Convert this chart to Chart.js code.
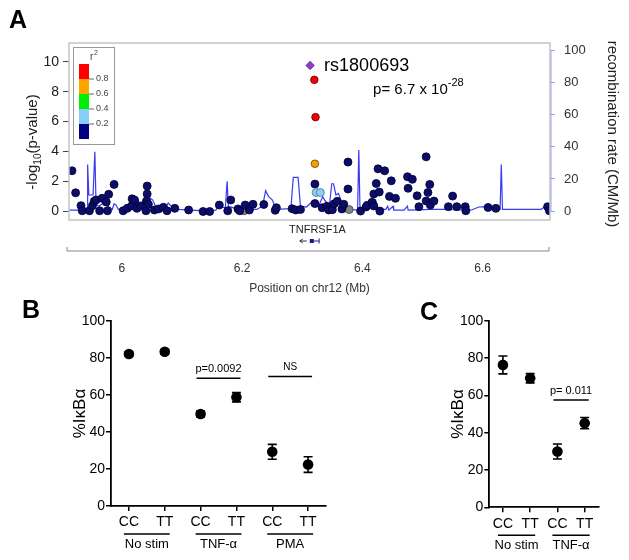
<!DOCTYPE html>
<html>
<head>
<meta charset="utf-8">
<script src="https://cdn.jsdelivr.net/npm/chart.js@4.4.0/dist/chart.umd.min.js"></script>
<style>
  body { margin: 0; background: #fff; }
  #wrap { position: relative; width: 629px; height: 560px; }
  canvas { position: absolute; }
</style>
</head>
<body>
<div id="wrap">
  <canvas id="chartA" width="629" height="300" style="left:0px;top:0px"></canvas>
  <canvas id="chartB" width="360" height="260" style="left:0px;top:300px"></canvas>
  <canvas id="chartC" width="249" height="260" style="left:380px;top:300px"></canvas>
</div>
<script>
const FONT = '"Liberation Sans", Arial, sans-serif';

// ---- panel A : regional association plot ----
const posTicks = [6, 6.2, 6.4, 6.6];
const pvTicks = [0, 2, 4, 6, 8, 10];
const recTicks = [0, 20, 40, 60, 80, 100];

const navyPos = [5.917,5.923,5.932,5.934,5.946,5.951,5.954,5.957,5.963,5.967,
  5.974,5.978,5.976,5.987,6.002,6.009,6.016,6.017,6.021,6.025,
  6.031,6.042,6.042,6.041,6.040,6.044,6.054,6.061,6.069,6.075,
  6.088,6.111,6.135,6.146,6.162,6.176,6.181,6.193,6.196,6.205,
  6.212,6.218,6.236,6.255,6.257,6.283,6.289,6.297,6.321,6.321,
  6.333,6.341,6.344,6.350,6.353,6.358,6.366,6.369,6.376,6.376,
  6.397,6.406,6.408,6.416,6.419,6.419,6.423,6.428,6.426,6.429,
  6.437,6.445,6.448,6.455,6.475,6.483,6.476,6.491,6.494,6.506,
  6.512,6.509,6.506,6.513,6.519,6.543,6.550,6.557,6.571,6.572,
  6.609,6.622,6.708,6.711];
const navyLogP = [2.72,1.25,0.39,0.05,0.05,0.39,0.68,0.77,0.05,0.88,
  0.63,1.15,0.05,1.81,0.05,0.21,0.37,0.85,0.77,0.21,
  0.37,1.70,1.17,0.70,0.05,0.48,0.10,0.17,0.28,0.05,
  0.21,0.10,0.00,0.00,0.43,0.05,0.77,0.17,0.05,0.43,
  0.10,0.48,0.47,0.08,0.25,0.19,0.10,0.13,1.83,0.53,
  0.25,0.35,0.10,0.12,0.51,0.68,0.17,0.48,3.30,1.50,
  0.03,0.30,0.41,0.61,1.17,0.37,1.87,1.30,2.85,0.03,
  2.72,1.01,2.05,0.88,2.32,2.15,1.55,1.05,0.32,3.65,
  1.81,1.27,0.70,0.43,0.70,0.32,1.03,0.32,0.32,0.05,
  0.27,0.21,0.32,0.05];
const grayPos = [6.203, 6.378];
const grayLogP = [0.05, 0.13];
const lbluePos = [6.323, 6.330];
const lblueLogP = [1.27, 1.27];
const orangePos = [6.321];
const orangeLogP = [3.19];
const redPos = [6.320, 6.322];
const redLogP = [8.79, 6.30];
const leadPos = [6.313];
const leadLogP = [9.75];
const leadName = 'rs1800693';

const recPos = [5.912,5.930,5.937,5.940,5.942,5.943,5.945,5.952,5.955,5.957,
  5.962,5.969,5.977,5.984,5.987,5.990,5.994,6.011,6.016,6.020,
  6.026,6.031,6.036,6.042,6.047,6.051,6.056,6.064,6.072,6.077,
  6.082,6.094,6.130,6.156,6.161,6.172,6.175,6.177,6.186,6.197,
  6.224,6.234,6.239,6.244,6.250,6.257,6.281,6.285,6.293,6.297,
  6.307,6.314,6.319,6.327,6.334,6.337,6.345,6.349,6.352,6.356,
  6.360,6.366,6.372,6.377,6.392,6.394,6.396,6.407,6.411,6.419,
  6.422,6.426,6.439,6.442,6.444,6.451,6.452,6.469,6.475,6.476,
  6.514,6.541,6.552,6.580,6.594,6.607,6.626,6.629,6.631,6.633,
  6.697,6.705,6.712];
const recRate = [0.5,0.5,3,0.5,1,29,10,10,37,4,
  3,5,3,1,4.5,4,1,1.5,6,3,
  7,4,7,3,8,7,3,2,1.5,5,
  3,1,0.3,0.5,3,2,18.5,3,2,1,
  1,3,12.7,9,7,1,1.5,21,21,3,
  2.5,5,4,3,9,7,3,17,17,10,
  11,5,3,1,0.5,38,1,2,6.4,6,
  7,1,1,3,0.5,3,0.5,0.5,3,0.5,
  1,1,0.8,0.5,2.5,2.7,1,1,29,1,
  1,3.3,1];

const geneName = 'TNFRSF1A';
const geneStart = 6.3125, geneEnd = 6.328;
const r2Labels = ['0.8', '0.6', '0.4', '0.2'];
const r2Colors = ['#ff0000', '#ffa500', '#00ee00', '#87cefa', '#000080'];

// ---- panel B ----
const bLabels = ['CC', 'TT', 'CC', 'TT', 'CC', 'TT'];
const bMean = [82.2, 83.4, 49.7, 58.8, 29.3, 22.4];
const bErr = [1.2, 1.2, 1.6, 2.5, 4.0, 4.2];
const bGroups = ['No stim', 'TNF-\u03b1', 'PMA'];
const bSigText = ['p=0.0092', 'NS'];
const bSigFrom = [2, 4], bSigTo = [3, 5], bSigY = [69, 70];

// ---- panel C ----
const cLabels = ['CC', 'TT', 'CC', 'TT'];
const cMean = [76.3, 69.2, 29.9, 45.1];
const cErr = [4.8, 2.5, 4.0, 3.0];
const cGroups = ['No stim', 'TNF-\u03b1'];
const cSigText = ['p= 0.011'];
const cSigFrom = [2], cSigTo = [3], cSigY = [57.5];

const pctTicks = [0, 20, 40, 60, 80, 100];

Chart.defaults.font.family = FONT;
Chart.defaults.animation = false;

const toXY = (xs, ys) => xs.map((x, i) => ({ x: x, y: ys[i] }));

function letter(ctx, t, x, y) {
  ctx.save();
  ctx.fillStyle = '#000';
  ctx.font = 'bold 25px ' + FONT;
  ctx.textAlign = 'left';
  ctx.textBaseline = 'alphabetic';
  ctx.fillText(t, x, y);
  ctx.restore();
}

const aExtras = {
  id: 'aExtras',
  afterDraw(chart) {
    const { ctx, chartArea: a } = chart;
    const x = chart.scales.x, y = chart.scales.y, y2 = chart.scales.y2;
    ctx.save();
    // frame
    ctx.strokeStyle = '#c4c4c4';
    ctx.lineWidth = 1.5;
    ctx.strokeRect(a.left, a.top, a.right - a.left, a.bottom - a.top);
    // recombination axis line
    ctx.strokeStyle = '#a4a4f0';
    ctx.lineWidth = 1;
    ctx.beginPath();
    ctx.moveTo(a.right + 1, y2.getPixelForValue(0));
    ctx.lineTo(a.right + 1, y2.getPixelForValue(100));
    ctx.stroke();

    // r2 legend
    const lx = a.left + 4, ly = a.top + 4;
    ctx.fillStyle = '#fff';
    ctx.fillRect(lx, ly, 41, 97);
    ctx.strokeStyle = '#999';
    ctx.lineWidth = 1;
    ctx.strokeRect(lx + 0.5, ly + 0.5, 41, 97);
    r2Colors.forEach((c, i) => {
      ctx.fillStyle = c;
      ctx.fillRect(lx + 6, ly + 17 + i * 15, 10, 15);
    });
    ctx.fillStyle = '#444';
    ctx.strokeStyle = '#666';
    ctx.font = '9px ' + FONT;
    ctx.textBaseline = 'middle';
    r2Labels.forEach((t, i) => {
      const ty = ly + 32 + i * 15;
      ctx.beginPath();
      ctx.moveTo(lx + 16, ty);
      ctx.lineTo(lx + 21, ty);
      ctx.stroke();
      ctx.fillText(t, lx + 23, ty);
    });
    ctx.font = '10px ' + FONT;
    ctx.fillText('r', lx + 17, ly + 10);
    ctx.font = '7px ' + FONT;
    ctx.fillText('2', lx + 21, ly + 6);

    // lead SNP annotation
    const px = x.getPixelForValue(leadPos[0]);
    const py = y.getPixelForValue(leadLogP[0]);
    ctx.fillStyle = '#000';
    ctx.textBaseline = 'alphabetic';
    ctx.font = '18px ' + FONT;
    ctx.fillText(leadName, px + 14, py + 6);
    ctx.font = '15px ' + FONT;
    ctx.fillText('p= 6.7 x 10', px + 63, py + 29);
    const w = ctx.measureText('p= 6.7 x 10').width;
    ctx.font = '11px ' + FONT;
    ctx.fillText('-28', px + 63 + w, py + 21);

    // gene track
    const g0 = x.getPixelForValue(geneStart), g1 = x.getPixelForValue(geneEnd);
    const gy = a.bottom + 21;
    ctx.font = '11px ' + FONT;
    ctx.textAlign = 'center';
    ctx.fillStyle = '#222';
    ctx.fillText(geneName, (g0 + g1) / 2 + 3, a.bottom + 13);
    ctx.strokeStyle = '#333';
    ctx.lineWidth = 1;
    ctx.beginPath();
    ctx.moveTo(g0 - 3, gy);
    ctx.lineTo(g0 - 10, gy);
    ctx.moveTo(g0 - 10, gy);
    ctx.lineTo(g0 - 7, gy - 2);
    ctx.moveTo(g0 - 10, gy);
    ctx.lineTo(g0 - 7, gy + 2);
    ctx.stroke();
    ctx.strokeStyle = '#1a1a8a';
    ctx.fillStyle = '#1a1a8a';
    ctx.beginPath();
    ctx.moveTo(g0, gy);
    ctx.lineTo(g1, gy);
    ctx.moveTo(g1, gy - 2.5);
    ctx.lineTo(g1, gy + 2.5);
    ctx.stroke();
    ctx.fillRect(g0, gy - 2, 4, 4);

    // detached position axis
    const axY = a.bottom + 31;
    ctx.strokeStyle = '#888';
    ctx.lineWidth = 1;
    ctx.beginPath();
    ctx.moveTo(x.getPixelForValue(x.min) - 2, axY - 4);
    ctx.lineTo(x.getPixelForValue(x.min) - 2, axY);
    ctx.lineTo(x.getPixelForValue(x.max) - 1, axY);
    ctx.lineTo(x.getPixelForValue(x.max) - 1, axY - 4);
    ctx.stroke();

    // axis titles
    ctx.fillStyle = '#222';
    ctx.textAlign = 'center';
    ctx.textBaseline = 'middle';
    ctx.save();
    ctx.translate(33, 142);
    ctx.rotate(-Math.PI / 2);
    ctx.font = '15px ' + FONT;
    const t1 = '-log', t3 = '(p-value)';
    const w1 = ctx.measureText(t1).width, w3 = ctx.measureText(t3).width;
    ctx.font = '10px ' + FONT;
    const w2 = ctx.measureText('10').width;
    let sx = -(w1 + w2 + w3) / 2;
    ctx.textAlign = 'left';
    ctx.font = '15px ' + FONT;
    ctx.fillText(t1, sx, 0);
    ctx.font = '10px ' + FONT;
    ctx.fillText('10', sx + w1, 5);
    ctx.font = '15px ' + FONT;
    ctx.fillText(t3, sx + w1 + w2, 0);
    ctx.restore();
    ctx.save();
    ctx.translate(612, 134);
    ctx.rotate(Math.PI / 2);
    ctx.font = '15px ' + FONT;
    ctx.fillText('recombination rate (CM/Mb)', 0, 0);
    ctx.restore();

    letter(ctx, 'A', 9, 28);
    ctx.restore();
  }
};

new Chart(document.getElementById('chartA'), {
  type: 'scatter',
  data: {
    datasets: [
      { data: toXY(leadPos, leadLogP), pointStyle: 'rectRot', pointRadius: 4.2,
        backgroundColor: '#8a3fc8', borderColor: '#5a2090', borderWidth: 0.8 },
      { data: toXY(redPos, redLogP), pointRadius: 3.8,
        backgroundColor: '#f00000', borderColor: '#700000', borderWidth: 0.8 },
      { data: toXY(orangePos, orangeLogP), pointRadius: 3.8,
        backgroundColor: '#f5a000', borderColor: '#604000', borderWidth: 0.8 },
      { data: toXY(lbluePos, lblueLogP), pointRadius: 4,
        backgroundColor: '#8cd0f2', borderColor: '#4a7090', borderWidth: 0.8 },
      { data: toXY(navyPos, navyLogP), pointRadius: 4,
        backgroundColor: '#0c0c6a', borderColor: '#000030', borderWidth: 0.8 },
      { data: toXY(grayPos, grayLogP), pointRadius: 4,
        backgroundColor: '#858585', borderColor: '#444', borderWidth: 0.8 },
      { data: toXY(recPos, recRate), yAxisID: 'y2', showLine: true, pointRadius: 0,
        borderColor: '#3a3af0', borderWidth: 1.2, tension: 0 }
    ]
  },
  options: {
    responsive: false,
    layout: { padding: { left: 0, right: 0, top: 43, bottom: 0 } },
    plugins: { legend: { display: false }, tooltip: { enabled: false } },
    scales: {
      x: {
        type: 'linear', min: 5.912, max: 6.712,
        grid: { display: false, drawTicks: false },
        border: { display: false },
        afterBuildTicks: s => { s.ticks = posTicks.map(v => ({ value: v })); },
        ticks: { font: { size: 12 }, color: '#333', padding: 41,
          callback: v => String(Math.round(v * 10) / 10) },
        title: { display: true, text: 'Position on chr12 (Mb)', font: { size: 12 },
          color: '#333', padding: { top: 0, bottom: 4 } },
        afterFit: s => { s.height = 80; }
      },
      y: {
        position: 'left', min: -0.567, max: 11.25,
        grid: { drawOnChartArea: false, drawTicks: true, tickLength: 6, color: '#444' },
        border: { display: false },
        afterBuildTicks: s => { s.ticks = pvTicks.map(v => ({ value: v })); },
        ticks: { font: { size: 14 }, color: '#222', padding: 4 },
        afterFit: s => { s.width = 69; }
      },
      y2: {
        position: 'right', min: -5.6, max: 104.8,
        grid: { drawOnChartArea: false, drawTicks: true, tickLength: 5, color: '#9a9aee' },
        border: { display: false },
        afterBuildTicks: s => { s.ticks = recTicks.map(v => ({ value: v })); },
        ticks: { font: { size: 13 }, color: '#333', padding: 9 },
        afterFit: s => { s.width = 79; }
      }
    }
  },
  plugins: [aExtras]
});

// ---- panels B and C : mean +/- error dot plots ----
function dotPlugin(id, errs, groups, sigText, sigFrom, sigTo, sigY, letterTxt, letterX, letterY, yTitleX) {
  return {
    id: id,
    afterDatasetsDraw(chart) {
      const { ctx } = chart;
      const y = chart.scales.y;
      const pts = chart.getDatasetMeta(0).data;
      ctx.save();
      ctx.strokeStyle = '#000';
      ctx.lineWidth = 1.6;
      const vals = chart.data.datasets[0].data;
      pts.forEach((p, i) => {
        const top = y.getPixelForValue(vals[i] + errs[i]);
        const bot = y.getPixelForValue(vals[i] - errs[i]);
        ctx.beginPath();
        ctx.moveTo(p.x, top); ctx.lineTo(p.x, bot);
        ctx.moveTo(p.x - 4.5, top); ctx.lineTo(p.x + 4.5, top);
        ctx.moveTo(p.x - 4.5, bot); ctx.lineTo(p.x + 4.5, bot);
        ctx.stroke();
      });
      ctx.restore();
    },
    afterDraw(chart) {
      const { ctx, chartArea: a } = chart;
      const y = chart.scales.y;
      const pts = chart.getDatasetMeta(0).data;
      ctx.save();
      ctx.fillStyle = '#000';
      ctx.strokeStyle = '#000';
      ctx.lineWidth = 1.5;
      ctx.textAlign = 'center';
      ctx.textBaseline = 'middle';
      ctx.font = '13px ' + FONT;
      groups.forEach((g, k) => {
        const x0 = pts[2 * k].x - 5, x1 = pts[2 * k + 1].x + 5;
        ctx.beginPath();
        ctx.moveTo(x0, a.bottom + 28); ctx.lineTo(x1, a.bottom + 28);
        ctx.stroke();
        ctx.fillText(g, (x0 + x1) / 2, a.bottom + 38);
      });
      sigText.forEach((t, k) => {
        const x0 = pts[sigFrom[k]].x - 4, x1 = pts[sigTo[k]].x + 4;
        const ly = y.getPixelForValue(sigY[k]);
        ctx.beginPath();
        ctx.moveTo(x0, ly); ctx.lineTo(x1, ly);
        ctx.stroke();
        ctx.font = (t === 'NS' ? '10px ' : '11px ') + FONT;
        ctx.fillText(t, (x0 + x1) / 2, ly - 9);
      });
      ctx.save();
      ctx.translate(yTitleX, (a.top + a.bottom) / 2);
      ctx.rotate(-Math.PI / 2);
      ctx.font = '17px ' + FONT;
      ctx.fillText('%I\u03baB\u03b1', 0, 0);
      ctx.restore();
      letter(ctx, letterTxt, letterX, letterY);
      ctx.restore();
    }
  };
}

function dotChart(el, labels, means, pad, xHeight, yWidth, plugin) {
  return new Chart(document.getElementById(el), {
    type: 'line',
    data: {
      labels: labels,
      datasets: [{ data: means, showLine: false, pointRadius: 5.3,
        backgroundColor: '#000', borderColor: '#000', borderWidth: 0 }]
    },
    options: {
      responsive: false,
      layout: { padding: pad },
      plugins: { legend: { display: false }, tooltip: { enabled: false } },
      scales: {
        x: {
          type: 'category', offset: true,
          grid: { drawOnChartArea: false, drawTicks: true, tickLength: 5, color: '#000',
            lineWidth: 1.5, offset: false },
          border: { display: true, color: '#000', width: 1.8 },
          ticks: { font: { size: 14 }, color: '#000', padding: 3 },
          afterFit: s => { s.height = xHeight; }
        },
        y: {
          min: 0, max: 100,
          grid: { drawOnChartArea: false, drawTicks: true, tickLength: 5, color: '#000', lineWidth: 1.5 },
          border: { display: true, color: '#000', width: 1.8 },
          afterBuildTicks: s => { s.ticks = pctTicks.map(v => ({ value: v })); },
          ticks: { font: { size: 14 }, color: '#000', padding: 1 },
          afterFit: s => { s.width = yWidth; }
        }
      }
    },
    plugins: [plugin]
  });
}

dotChart('chartB', bLabels, bMean, { left: 0, top: 21, right: 34, bottom: 0 }, 54, 111,
  dotPlugin('bExtras', bErr, bGroups, bSigText, bSigFrom, bSigTo, bSigY, 'B', 22, 18, 80));
dotChart('chartC', cLabels, cMean, { left: 0, top: 20.7, right: 30.7, bottom: 0 }, 52.7, 109.3,
  dotPlugin('cExtras', cErr, cGroups, cSigText, cSigFrom, cSigTo, cSigY, 'C', 40, 20, 78));
</script>
</body>
</html>
